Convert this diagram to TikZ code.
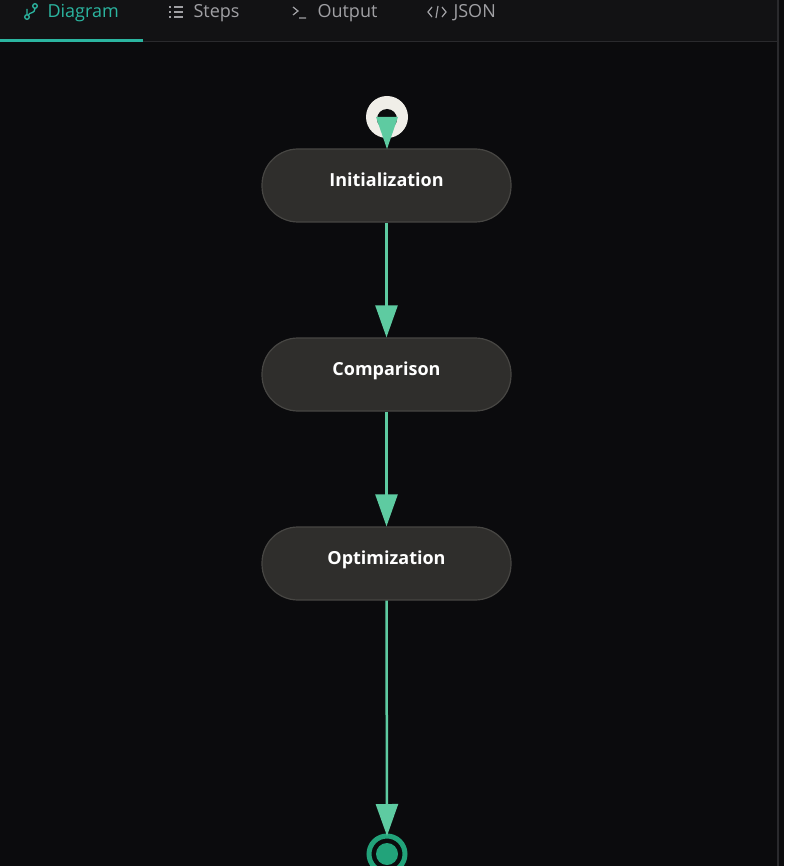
\documentclass[tikz,border=0pt]{standalone}
\usepackage{fontspec}
\setmainfont{Open Sans}
\usetikzlibrary{arrows.meta}
\definecolor{bg}{HTML}{0B0B0D}
\definecolor{tabbg}{HTML}{121214}
\definecolor{edge}{HTML}{2A2A2D}
\definecolor{teal}{HTML}{2BB5A0}
\definecolor{greytxt}{HTML}{A0A0A4}
\definecolor{nodefill}{HTML}{2F2E2C}
\definecolor{nodeline}{HTML}{474643}
\definecolor{arrowc}{HTML}{5ECBA1}
\definecolor{endc}{HTML}{22A37A}
\definecolor{startc}{HTML}{F0EEE8}
\tikzset{
 stepbox/.style={draw=nodeline,line width=1.2pt,fill=nodefill,rounded corners=36pt,minimum width=249pt,minimum height=73pt,text=white,font=\fontsize{18}{20}\selectfont\bfseries,text depth=12pt},
 flow/.style={draw=arrowc,line width=2.5pt,-{Triangle[length=32pt,width=22pt,fill=arrowc]}},
 tab/.style={font=\fontsize{18}{20}\selectfont,anchor=west,text=greytxt}
}
\begin{document}
\begin{tikzpicture}[x=1pt,y=-1pt]
\useasboundingbox (0,0) rectangle (784,866);
\fill[bg] (0,0) rectangle (784,866);
\fill[tabbg] (0,0) rectangle (778,42);
\draw[edge,line width=1pt] (0,42) -- (778,42);
\draw[edge,line width=1.5pt] (778,0) -- (778,866);
\draw[teal,line width=3pt] (0,40.5) -- (143,40.5);
% tabs
\node[tab,text=teal] (t1) at (44,13) {Diagram};
\node[tab] (t2) at (190,13) {Steps};
\node[tab] (t3) at (314,13) {Output};
\node[tab] (t4) at (450,13) {JSON};
% icons
\draw[teal,line width=1.3pt] (27,17) circle (2.3) (35,6) circle (2.3) (27,14.5) -- (27,9) (35,8.5) .. controls (35,14) and (29,12) .. (28.5,15);
\foreach \yy in {7,12,17}{\draw[greytxt,line width=1.2pt] (169,\yy) -- (171,\yy) (174,\yy) -- (183,\yy);}
\draw[greytxt,line width=1.2pt] (293,7) -- (298,11) -- (293,15) (299,18) -- (306,18);
\draw[greytxt,line width=1.2pt] (432,7) -- (428,12) -- (432,17) (442,7) -- (446,12) -- (442,17) (438,6) -- (436,18);
% start
\node[circle,fill=startc,minimum size=42pt,inner sep=0pt] (start) at (387,117) {};
\fill[bg] (387,119) circle (10);
% nodes
\node[stepbox] (init) at (386.5,185.5) {Initialization};
\node[stepbox] (comp) at (386.5,374.5) {Comparison};
\node[stepbox] (opt) at (386.5,563.5) {Optimization};
% end
\coordinate (endc) at (387,854);
\draw[endc,line width=5pt] (endc) circle (18);
\fill[endc] (endc) circle (11);
\coordinate (endtop) at (387,836);
\fill[arrowc] (376,117) -- (398,117) -- (387,149) -- cycle;
\draw[flow] (init.south) -- (comp.north);
\draw[flow] (comp.south) -- (opt.north);
\draw[flow] (opt.south) -- (endtop);
\end{tikzpicture}
\end{document}
